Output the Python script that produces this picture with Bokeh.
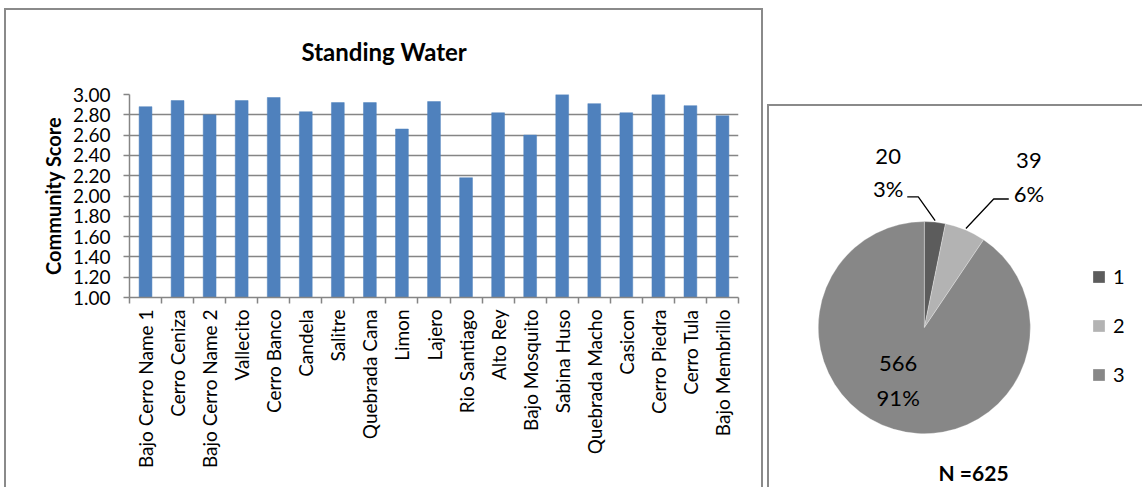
import math

from bokeh.core.properties import value
from bokeh.embed import file_html
from bokeh.models import (ColumnDataSource, FixedTicker, Legend, LegendItem, LinearAxis,
                          NumeralTickFormatter, Range1d, Title)
from bokeh.plotting import figure
from bokeh.resources import INLINE

# ---- data -----------------------------------------------------------------
sites = ["Bajo Cerro Name 1", "Cerro Ceniza", "Bajo Cerro Name 2", "Vallecito",
         "Cerro Banco", "Candela", "Salitre", "Quebrada Cana", "Limon", "Lajero",
         "Rio Santiago", "Alto Rey", "Bajo Mosquito", "Sabina Huso", "Quebrada Macho",
         "Casicon", "Cerro Piedra", "Cerro Tula", "Bajo Membrillo"]
scores = [2.88, 2.94, 2.80, 2.94, 2.97, 2.83, 2.92, 2.92, 2.66, 2.93,
          2.18, 2.82, 2.60, 3.00, 2.91, 2.82, 3.00, 2.89, 2.79]
score_ticks = [1.00, 1.20, 1.40, 1.60, 1.80, 2.00, 2.20, 2.40, 2.60, 2.80, 3.00]

response_levels = ["1", "2", "3"]
response_counts = [20, 39, 566]

# ---- styling --------------------------------------------------------------
FONT = "Lato"
GRID = "#858585"
FRAME = "#8a8a8a"
BAR_BLUE = "#4f81bd"
SLICE_COLORS = ["#5c5c5c", "#b3b3b3", "#878787"]
TEXT = "#000000"
BORDER = f"2px solid {FRAME}"

# ---- bar chart ------------------------------------------------------------
n_sites = len(sites)
slot_centers = [i + 0.5 for i in range(n_sites)]   # one unit-wide slot per site

bar = figure(width=759, height=479,
             x_range=Range1d(0, n_sites), y_range=Range1d(1, 3),
             x_axis_location=None, y_axis_location="left",
             min_border_left=123, min_border_right=27,
             min_border_top=83, min_border_bottom=192,
             output_backend="svg", toolbar_location=None)
bar.styles = {"position": "absolute", "left": "4px", "top": "8px",
              "border-top": BORDER, "border-left": BORDER, "border-right": BORDER}
bar.outline_line_color = None

bar.title = Title(text="Standing Water", align="left", offset=172,
                  vertical_align="top", standoff=53,
                  text_font=FONT, text_font_size="24px", text_font_style="bold",
                  text_color=TEXT)

src = ColumnDataSource(dict(x=slot_centers, site=sites, score=scores))
bar.vbar(x="x", top="score", bottom=1, width=0.4, source=src,
         fill_color=BAR_BLUE, line_color=BAR_BLUE, line_width=0.5)

ticker = FixedTicker(ticks=score_ticks)
yax = bar.yaxis[0]
yax.ticker = ticker
yax.formatter = NumeralTickFormatter(format="0.00")
yax.axis_label = "Community Score"
yax.axis_label_text_font = FONT
yax.axis_label_text_font_size = "20px"
yax.axis_label_text_font_style = "bold"
yax.axis_label_text_color = TEXT
yax.axis_label_standoff = 5
yax.major_label_text_font = FONT
yax.major_label_text_font_size = "19px"
yax.major_label_text_color = TEXT
yax.major_label_standoff = 13
yax.axis_line_color = GRID
yax.axis_line_width = 1.5
yax.major_tick_line_color = GRID
yax.major_tick_line_width = 1.5
yax.major_tick_out = 6
yax.major_tick_in = 0
yax.minor_tick_line_color = None

bar.xgrid.visible = False
bar.ygrid.ticker = ticker
bar.ygrid.grid_line_color = GRID
bar.ygrid.grid_line_width = 1.6

# axis line with tick marks on the slot boundaries (no labels of its own)
edge_ticks = list(range(n_sites + 1))
edge_axis = LinearAxis(ticker=FixedTicker(ticks=edge_ticks),
                       major_label_overrides={t: "" for t in edge_ticks},
                       major_label_text_font_size="1px", major_label_text_color=None,
                       major_label_standoff=0,
                       major_tick_out=6, major_tick_in=0,
                       minor_tick_line_color=None,
                       axis_line_color=GRID, axis_line_width=1.6,
                       major_tick_line_color=GRID, major_tick_line_width=1.5)
bar.add_layout(edge_axis, "below")

# site names under the slot centres, reading bottom to top
site_axis = LinearAxis(ticker=FixedTicker(ticks=slot_centers),
                       major_label_overrides={c: s for c, s in zip(slot_centers, sites)},
                       major_tick_line_color=None, axis_line_color=None,
                       minor_tick_line_color=None,
                       major_tick_out=0, major_tick_in=0,
                       major_label_orientation=math.pi / 2,
                       major_label_standoff=6,
                       major_label_text_font=FONT,
                       major_label_text_font_size="19px",
                       major_label_text_color=TEXT)
bar.add_layout(site_axis, "below")

# ---- pie chart ------------------------------------------------------------
PW, PH = 373, 381   # drawing area inside the border, 1 data unit = 1 px
pie = figure(width=PW + 2, height=PH + 2, x_range=Range1d(0, PW), y_range=Range1d(0, PH),
             x_axis_location=None, y_axis_location=None, min_border=0,
             output_backend="svg", toolbar_location=None)
pie.styles = {"position": "absolute", "left": "767px", "top": "104px",
              "border-top": BORDER, "border-left": BORDER}
pie.outline_line_color = None
pie.grid.visible = False

cx, cy, radius = 154, 161, 105.5
total = sum(response_counts)
fracs = [c / total for c in response_counts]
starts, ends, mids = [], [], []
acc = 0.0
for f in fracs:
    a0 = math.pi / 2 - 2 * math.pi * acc
    acc += f
    a1 = math.pi / 2 - 2 * math.pi * acc
    starts.append(a0)
    ends.append(a1)
    mids.append((a0 + a1) / 2)

pie_src = ColumnDataSource(dict(level=response_levels, count=response_counts,
                                start=starts, end=ends, color=SLICE_COLORS))
wedges = pie.wedge(x=cx, y=cy, radius=radius, start_angle="start", end_angle="end",
                   direction="clock", fill_color="color", line_color="white",
                   line_width=0.6, line_alpha=0.5, source=pie_src)

# data labels: count above percentage
label_pos = [(118, 331, 299), (258, 327, 294), (128, 125, 92)]
cnt_x, cnt_y, pct_y, cnt_txt, pct_txt = [], [], [], [], []
for (lx, ly1, ly2), c in zip(label_pos, response_counts):
    cnt_x.append(lx)
    cnt_y.append(ly1)
    pct_y.append(ly2)
    cnt_txt.append(str(c))
    pct_txt.append(f"{round(100 * c / total)}%")
pie.text(x=cnt_x, y=cnt_y, text=cnt_txt, text_align="center", text_baseline="middle",
         text_font=value(FONT), text_font_size="22px", text_color=TEXT)
pie.text(x=cnt_x, y=pct_y, text=pct_txt, text_align="center", text_baseline="middle",
         text_font=value(FONT), text_font_size="22px", text_color=TEXT)

# leader lines for the two small slices
leader_r = 107
elbows = [((148, 291), (137, 291)), ((223, 289), (238, 289))]
lxs, lys = [], []
for i, ((ex, ey), (tx, ty)) in enumerate(elbows):
    ax = cx + leader_r * math.cos(mids[i])
    ay = cy + leader_r * math.sin(mids[i])
    lxs.append([ax, ex, tx])
    lys.append([ay, ey, ty])
pie.multi_line(xs=lxs, ys=lys, line_color="black", line_width=1.3)

pie.text(x=[203], y=[17], text=[f"N ={total}"], text_align="center", text_baseline="middle",
         text_font=value(FONT), text_font_size="21px", text_font_style="bold",
         text_color=TEXT)

legend = Legend(items=[LegendItem(label=lvl, renderers=[wedges], index=i)
                       for i, lvl in enumerate(response_levels)],
                location=(322, 103), orientation="vertical",
                glyph_width=15, glyph_height=15, label_standoff=7, spacing=25,
                padding=0, margin=0, border_line_color=None,
                background_fill_alpha=0,
                label_text_font=FONT, label_text_font_size="20px",
                label_text_color=TEXT)
pie.add_layout(legend)

open("out.html", "w").write(file_html([bar, pie], INLINE))
